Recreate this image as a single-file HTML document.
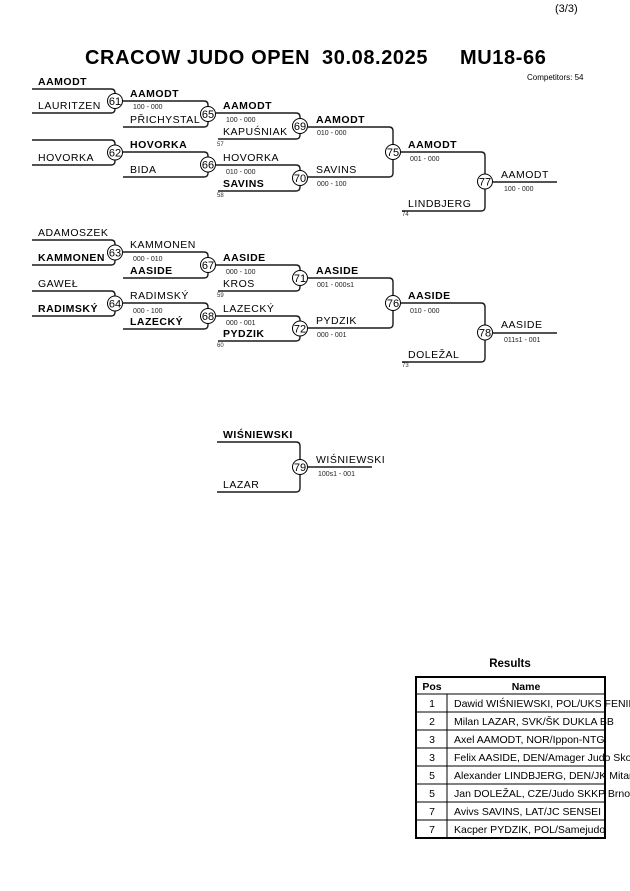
<!DOCTYPE html>
<html><head><meta charset="utf-8"><style>
body{margin:0;background:#fff;width:630px;height:891px;overflow:hidden}
svg{display:block}
text{font-family:"Liberation Sans",Arial,sans-serif;fill:#000}
.n{font-size:10.5px;letter-spacing:0.5px}
.b{font-weight:bold}
.s{font-size:7px;fill:#222}
.t{font-size:6px;fill:#333}
.c{font-size:11px;text-anchor:middle}
.h{font-size:20px;font-weight:bold;letter-spacing:0.6px}
path,line{stroke:#1a1a1a;stroke-width:1.4;fill:none}
circle{stroke:#000;stroke-width:1;fill:#fff}
</style></head><body>
<svg width="630" height="891" viewBox="0 0 630 891">
<text x="555" y="12" style="font-size:11px">(3/3)</text>
<text x="85" y="64" class="h">CRACOW JUDO OPEN</text>
<text x="322" y="64" class="h">30.08.2025</text>
<text x="460" y="64" class="h">MU18-66</text>
<text x="527" y="80" style="font-size:8px">Competitors: 54</text>

<g id="br"></g>

<text x="510" y="667" class="b" style="font-size:11.5px;text-anchor:middle">Results</text>
<g>
<rect x="416" y="677" width="189" height="161" fill="none" stroke="#000" stroke-width="2"/>
<line x1="416" y1="694" x2="605" y2="694" style="stroke:#000;stroke-width:1"/>
<line x1="447" y1="694" x2="447" y2="838" style="stroke:#000;stroke-width:1"/>
<text x="432" y="690" class="b" style="font-size:10.5px;text-anchor:middle">Pos</text>
<text x="526" y="690" class="b" style="font-size:10.5px;text-anchor:middle">Name</text>
</g>
<g id="rows"></g>
</svg>
<script>
var ns="http://www.w3.org/2000/svg",br=document.getElementById('br');
function el(t,a,txt,p){var e=document.createElementNS(ns,t);for(var k in a)e.setAttribute(k,a[k]);if(txt!=null)e.textContent=txt;(p||br).appendChild(e);return e;}
function T(x,y,s,cls){el('text',{x:x,y:y,'class':cls},s);}
function M(x1,x1b,x2,yt,yb,num){var r=4;
el('path',{d:'M'+x1+','+yt+'H'+(x2-r)+'Q'+x2+','+yt+' '+x2+','+(yt+r)+'V'+(yb-r)+'Q'+x2+','+yb+' '+(x2-r)+','+yb+'H'+x1b});
var cy=(yt+yb)/2;el('circle',{cx:x2,cy:cy,r:7.5});el('text',{x:x2,y:cy+4,'class':'c'},num);}
M(32,32,115,89,113,61);T(38,85,'AAMODT','n b');T(38,109,'LAURITZEN','n');
M(32,32,115,140,165,62);T(38,161,'HOVORKA','n');
M(123,123,208,101,127,65);T(130,97,'AAMODT','n b');T(133,109,'100 - 000','s');T(130,123,'PŘICHYSTAL','n');
M(123,123,208,152,177,66);T(130,148,'HOVORKA','n b');T(130,173,'BIDA','n');
M(216,218,300,113,139,69);T(223,109,'AAMODT','n b');T(226,122,'100 - 000','s');T(223,135,'KAPUŚNIAK','n');T(217,146,'57','t');
M(216,218,300,165,191,70);T(223,161,'HOVORKA','n');T(226,174,'010 - 000','s');T(223,187,'SAVINS','n b');T(217,197,'58','t');
M(308,308,393,127,177,75);T(316,123,'AAMODT','n b');T(317,135,'010 - 000','s');T(316,173,'SAVINS','n');T(317,186,'000 - 100','s');
M(401,402,485,152,211,77);T(408,148,'AAMODT','n b');T(410,161,'001 - 000','s');T(408,207,'LINDBJERG','n');T(402,216,'74','t');
el('line',{x1:493,y1:182,x2:557,y2:182});T(501,178,'AAMODT','n');T(504,191,'100 - 000','s');
M(32,32,115,240,265,63);T(38,236,'ADAMOSZEK','n');T(38,261,'KAMMONEN','n b');
M(32,32,115,291,316,64);T(38,287,'GAWEŁ','n');T(38,312,'RADIMSKÝ','n b');
M(123,123,208,252,278,67);T(130,248,'KAMMONEN','n');T(133,261,'000 - 010','s');T(130,274,'AASIDE','n b');
M(123,123,208,303,329,68);T(130,299,'RADIMSKÝ','n');T(133,313,'000 - 100','s');T(130,325,'LAZECKÝ','n b');
M(216,218,300,265,291,71);T(223,261,'AASIDE','n b');T(226,274,'000 - 100','s');T(223,287,'KROS','n');T(217,297,'59','t');
M(216,218,300,316,341,72);T(223,312,'LAZECKÝ','n');T(226,325,'000 - 001','s');T(223,337,'PYDZIK','n b');T(217,347,'60','t');
M(308,308,393,278,328,76);T(316,274,'AASIDE','n b');T(317,287,'001 - 000s1','s');T(316,324,'PYDZIK','n');T(317,337,'000 - 001','s');
M(401,402,485,303,362,78);T(408,299,'AASIDE','n b');T(410,313,'010 - 000','s');T(408,358,'DOLEŽAL','n');T(402,367,'73','t');
el('line',{x1:493,y1:333,x2:557,y2:333});T(501,328,'AASIDE','n');T(504,342,'011s1 - 001','s');
M(217,217,300,442,492,79);T(223,438,'WIŚNIEWSKI','n b');T(223,488,'LAZAR','n');
el('line',{x1:308,y1:467,x2:372,y2:467});T(316,463,'WIŚNIEWSKI','n');T(318,476,'100s1 - 001','s');
var rows=[['1','Dawid WIŚNIEWSKI, POL/UKS FENIKS'],['2','Milan LAZAR, SVK/ŠK DUKLA BB'],['3','Axel AAMODT, NOR/Ippon-NTG'],['3','Felix AASIDE, DEN/Amager Judo Skole'],['5','Alexander LINDBJERG, DEN/JK Mitani'],['5','Jan DOLEŽAL, CZE/Judo SKKP Brno'],['7','Avivs SAVINS, LAT/JC SENSEI'],['7','Kacper PYDZIK, POL/Samejudo']];
var rg=document.getElementById('rows');
rows.forEach(function(r,i){var y=694+18*i;
if(i>0)el('line',{x1:416,y1:y,x2:605,y2:y,style:'stroke:#000;stroke-width:1'},null,rg);
el('text',{x:432,y:y+13,style:'font-size:10.5px;text-anchor:middle'},r[0],rg);
el('text',{x:454,y:y+13,style:'font-size:10.5px'},r[1],rg);});
</script>
</body></html>
